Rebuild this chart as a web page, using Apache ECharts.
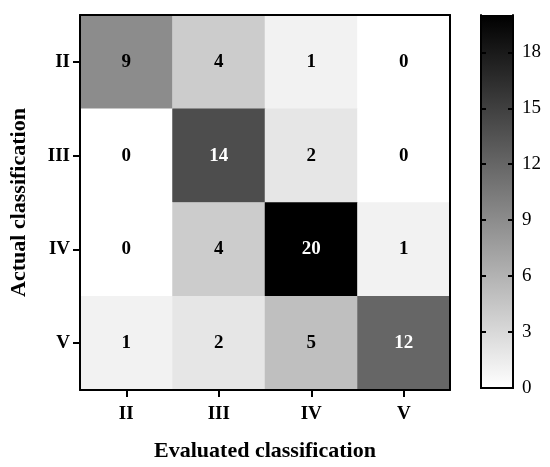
<!DOCTYPE html>
<html>
<head>
<meta charset="utf-8">
<script src="https://cdn.jsdelivr.net/npm/echarts@6/dist/echarts.min.js"></script>
<style>
  html, body { margin: 0; padding: 0; background: #fff; }
  #chart { width: 550px; height: 467px; }
</style>
</head>
<body>
<div id="chart"></div>
<script>
    // classes, rows = actual, columns = evaluated
    var evaluated = ['II', 'III', 'IV', 'V'];
    var actual = ['II', 'III', 'IV', 'V'];
    var rowII  = [9, 4, 1, 0];
    var rowIII = [0, 14, 2, 0];
    var rowIV  = [0, 4, 20, 1];
    var rowV   = [1, 2, 5, 12];
    var colorMax = 20;
    var colorTicks = [0, 3, 6, 9, 12, 15, 18];

    var rows = [rowII, rowIII, rowIV, rowV];
    var cells = [];
    for (var r = 0; r < rows.length; r++) {
        for (var c = 0; c < rows[r].length; c++) {
            cells.push([c, r, rows[r][c]]);
        }
    }

    var serif = 'Liberation Serif';
    var blackLine = {show: true, lineStyle: {color: '#000', width: 2}};
    var myChart = echarts.init(document.getElementById('chart'));

    var option = {
        backgroundColor: '#fff',
        animation: false,
        grid: [
            {left: 76, top: 15, right: 100, bottom: 77},
            {left: 481, top: 15, right: 37, bottom: 79}
        ],
        xAxis: [
            {
                type: 'category', gridIndex: 0, data: evaluated, z: 10,
                name: 'Evaluated classification', nameLocation: 'middle', nameGap: 50,
                nameTextStyle: {fontFamily: serif, fontWeight: 'bold', fontSize: 22, color: '#000'},
                axisLine: blackLine,
                axisTick: {show: true, alignWithLabel: true, length: 7, lineStyle: {color: '#000', width: 2}},
                axisLabel: {fontFamily: serif, fontWeight: 'bold', fontSize: 19, color: '#000', margin: 15}
            },
            {
                type: 'category', gridIndex: 0, data: evaluated, position: 'top', z: 10,
                axisLine: blackLine, axisTick: {show: false}, axisLabel: {show: false}
            },
            {
                type: 'category', gridIndex: 1, data: [''], z: 10,
                axisLine: blackLine, axisTick: {show: false}, axisLabel: {show: false}
            },
            {
                type: 'category', gridIndex: 1, data: [''], position: 'top', z: 10,
                axisLine: blackLine, axisTick: {show: false}, axisLabel: {show: false}
            }
        ],
        yAxis: [
            {
                type: 'category', gridIndex: 0, data: actual, inverse: true, z: 10,
                name: 'Actual classification', nameLocation: 'middle', nameGap: 50,
                nameTextStyle: {fontFamily: serif, fontWeight: 'bold', fontSize: 22, color: '#000'},
                axisLine: blackLine,
                axisTick: {show: true, alignWithLabel: true, length: 7, lineStyle: {color: '#000', width: 2}},
                axisLabel: {fontFamily: serif, fontWeight: 'bold', fontSize: 19, color: '#000', margin: 10}
            },
            {
                type: 'category', gridIndex: 0, data: actual, inverse: true, position: 'right', z: 10,
                axisLine: blackLine, axisTick: {show: false}, axisLabel: {show: false}
            },
            // colorbar axes
            {
                type: 'value', gridIndex: 1, min: 0, max: colorMax, interval: 3, position: 'right', z: 10,
                axisLine: blackLine,
                axisTick: {show: true, inside: true, length: 5, customValues: colorTicks,
                    lineStyle: {color: '#000', width: 2}},
                axisLabel: {fontFamily: serif, fontSize: 19, color: '#000', margin: 9, customValues: colorTicks},
                splitLine: {show: false}
            },
            {
                type: 'value', gridIndex: 1, min: 0, max: colorMax, interval: 3, position: 'left', z: 10,
                axisLine: blackLine,
                axisTick: {show: true, inside: true, length: 5, customValues: colorTicks,
                    lineStyle: {color: '#000', width: 2}},
                axisLabel: {show: false},
                splitLine: {show: false}
            }
        ],
        visualMap: {
            show: false, min: 0, max: colorMax, seriesIndex: 0,
            inRange: {color: ['#ffffff', '#000000']}
        },
        series: [
            {
                type: 'heatmap', xAxisIndex: 0, yAxisIndex: 0,
                data: cells.map(function (d) {
                    // white labels on dark cells
                    return {value: d, label: {color: d[2] > 10 ? '#fff' : '#000'}};
                }),
                label: {
                    show: true, fontFamily: serif, fontWeight: 'bold', fontSize: 19,
                    formatter: function (p) { return p.value[2]; }
                },
                itemStyle: {borderWidth: 0},
                z: 1
            },
            {
                type: 'bar', xAxisIndex: 2, yAxisIndex: 2, data: [colorMax],
                barWidth: 32, barCategoryGap: 0, silent: true,
                itemStyle: {
                    borderRadius: 0,
                    color: new echarts.graphic.LinearGradient(0, 0, 0, 1, [
                        {offset: 0, color: '#000000'},
                        {offset: 1, color: '#ffffff'}
                    ])
                },
                z: 1
            }
        ]
    };

    myChart.setOption(option);
</script>
</body>
</html>
